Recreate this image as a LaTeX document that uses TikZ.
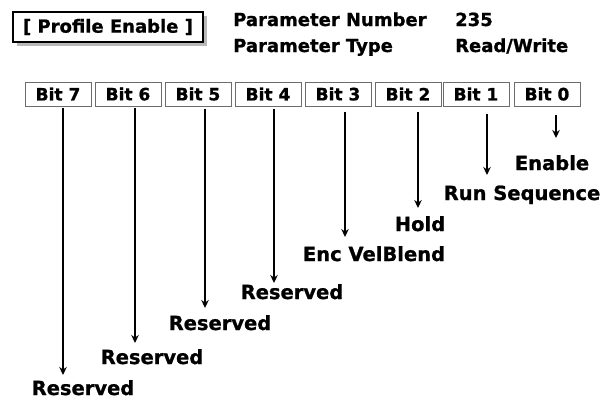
\documentclass[tikz,border=0pt]{standalone}
\usepackage{fontspec}
\setmainfont[BoldFeatures={FakeBold=1}]{DejaVu Sans}
\usetikzlibrary{arrows.meta}
\begin{document}
\begin{tikzpicture}[x=1pt,y=-1pt,
  lbl/.style={font=\bfseries\fontsize{19.5}{21}\selectfont, inner sep=0pt, anchor=base},
  hdr/.style={font=\bfseries\fontsize{18}{20}\selectfont, inner sep=0pt, anchor=base west},
  bitbox/.style={draw=gray!85!black, line width=1pt, minimum width=66pt, minimum height=24pt, inner sep=0pt, font=\bfseries\fontsize{17}{19}\selectfont},
  arr/.style={-{Stealth[length=8pt,width=7.5pt]}, line width=1.5pt}]
\useasboundingbox (0,0) rectangle (603,400);
% title box
\fill[gray!55] (17,16) rectangle (207,46);
\node[draw=black, line width=1.5pt, fill=white, minimum width=190pt, minimum height=30pt, inner sep=0pt,
      font=\bfseries\fontsize{18}{20}\selectfont] (title) at (108,27) {[ Profile Enable ]};
% header
\node[hdr] (pn) at (233,26) {Parameter Number};
\node[hdr] (pnv) at (455,26) {235};
\node[hdr] (pt) at (233,52) {Parameter Type};
\node[hdr] (ptv) at (455,52) {Read/Write};
% bit boxes
\node[bitbox] (b7) at (58,94) {Bit 7};
\node[bitbox] (b6) at (128,94) {Bit 6};
\node[bitbox] (b5) at (198,94) {Bit 5};
\node[bitbox] (b4) at (268,94) {Bit 4};
\node[bitbox] (b3) at (338,94) {Bit 3};
\node[bitbox] (b2) at (408,94) {Bit 2};
\node[bitbox] (b1) at (476,94) {Bit 1};
\node[bitbox] (b0) at (547,94) {Bit 0};
% labels
\node[lbl] (l0) at (552,170) {Enable};
\node[lbl] (l1) at (522,200) {Run Sequence};
\node[lbl] (l2) at (420,231) {Hold};
\node[lbl] (l3) at (374,261) {Enc VelBlend};
\node[lbl] (l4) at (292,299) {Reserved};
\node[lbl] (l5) at (220,330) {Reserved};
\node[lbl] (l6) at (152,364) {Reserved};
\node[lbl] (l7) at (83,395) {Reserved};
% arrow tips
\coordinate (e7) at (63,375);
\coordinate (e6) at (135,343);
\coordinate (e5) at (205,308);
\coordinate (e4) at (274,283);
\coordinate (e3) at (345,237);
\coordinate (e2) at (418,208);
\coordinate (e1) at (487,175);
\coordinate (e0) at (556,138);
% arrows
\draw[arr] ([yshift=-1pt]b7.south -| e7) -- (e7);
\draw[arr] ([yshift=-1pt]b6.south -| e6) -- (e6);
\draw[arr] ([yshift=-2pt]b5.south -| e5) -- (e5);
\draw[arr] ([yshift=-2pt]b4.south -| e4) -- (e4);
\draw[arr] ([yshift=-5pt]b3.south -| e3) -- (e3);
\draw[arr] ([yshift=-5pt]b2.south -| e2) -- (e2);
\draw[arr] ([yshift=-7pt]b1.south -| e1) -- (e1);
\draw[arr] ([yshift=-8pt]b0.south -| e0) -- (e0);
\end{tikzpicture}
\end{document}
